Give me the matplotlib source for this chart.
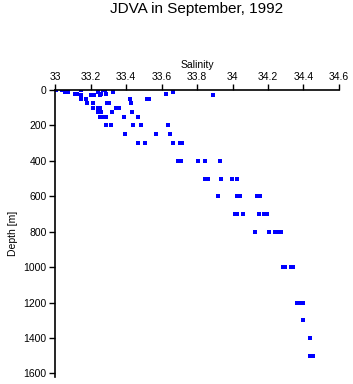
import numpy as np
import matplotlib
matplotlib.use('Agg')
import matplotlib.pyplot as plt

# standard depths (m) and salinity readings at each
depth_0 = [33.007, 33.037, 33.148, 33.270, 33.282]
depth_10 = [33.059, 33.076, 33.240, 33.328, 33.667]
depth_20 = [33.110, 33.124, 33.259, 33.289, 33.625]
depth_30 = [33.148, 33.203, 33.218, 33.255, 33.888]
depth_50 = [33.148, 33.175, 33.420, 33.518, 33.530]
depth_75 = [33.178, 33.214, 33.293, 33.307, 33.430]
depth_100 = [33.214, 33.245, 33.256, 33.346, 33.358]
depth_125 = [33.242, 33.259, 33.323, 33.436]
depth_150 = [33.251, 33.265, 33.289, 33.387, 33.468]
depth_200 = [33.289, 33.317, 33.438, 33.486, 33.637]
depth_250 = [33.396, 33.569, 33.650]
depth_300 = [33.468, 33.509, 33.667, 33.704, 33.717]
depth_400 = [33.693, 33.710, 33.807, 33.845, 33.930]
depth_500 = [33.845, 33.862, 33.937, 33.999, 34.027]
depth_600 = [33.920, 34.025, 34.042, 34.138, 34.155]
depth_700 = [34.014, 34.025, 34.061, 34.151, 34.177, 34.194]
depth_800 = [34.128, 34.207, 34.239, 34.256, 34.273]
depth_1000 = [34.285, 34.296, 34.330, 34.341]
depth_1200 = [34.361, 34.386, 34.397]
depth_1300 = [34.400]
depth_1400 = [34.439]
depth_1500 = [34.437, 34.454]

levels = {0: depth_0, 10: depth_10, 20: depth_20, 30: depth_30, 50: depth_50,
          75: depth_75, 100: depth_100, 125: depth_125, 150: depth_150,
          200: depth_200, 250: depth_250, 300: depth_300, 400: depth_400,
          500: depth_500, 600: depth_600, 700: depth_700, 800: depth_800,
          1000: depth_1000, 1200: depth_1200, 1300: depth_1300,
          1400: depth_1400, 1500: depth_1500}

sal = []
dep = []
for d, vals in levels.items():
   sal += vals
   dep += [d]*len(vals)

xticks = [33, 33.2, 33.4, 33.6, 33.8, 34, 34.2, 34.4, 34.6]
yticks = [0, 200, 400, 600, 800, 1000, 1200, 1400, 1600]

plt.rcParams['font.family'] = ['Liberation Sans', 'DejaVu Sans']

fig = plt.figure(figsize=[3.53, 3.84], dpi=100)
ax = fig.add_axes([55/353., 7/384., 284/353., 287/384.])
ax.plot(sal, dep, 's', color='#0000ff', markersize=2.4, markeredgewidth=0)

ax.set_xlim(33, 34.6)
ax.set_ylim(1620, 0)
ax.set_xticks(xticks)
ax.set_xticklabels(['33', '33.2', '33.4', '33.6', '33.8', '34', '34.2', '34.4', '34.6'])
ax.set_yticks(yticks)
ax.xaxis.tick_top()
ax.xaxis.set_label_position('top')
ax.spines['right'].set_visible(False)
ax.spines['bottom'].set_visible(False)
ax.spines['top'].set_linewidth(1.2)
ax.spines['left'].set_linewidth(1.2)
ax.tick_params(axis='both', direction='out', length=4, width=1, labelsize=7.5, pad=2)
ax.set_xlabel('Salinity', fontsize=7.5, labelpad=3)
ax.set_ylabel('Depth [m]', fontsize=7.5, labelpad=4)
fig.text(197/353., 1-9/384., 'JDVA in September, 1992', ha='center', va='center', fontsize=11)

plt.savefig('out.png', dpi=100)
